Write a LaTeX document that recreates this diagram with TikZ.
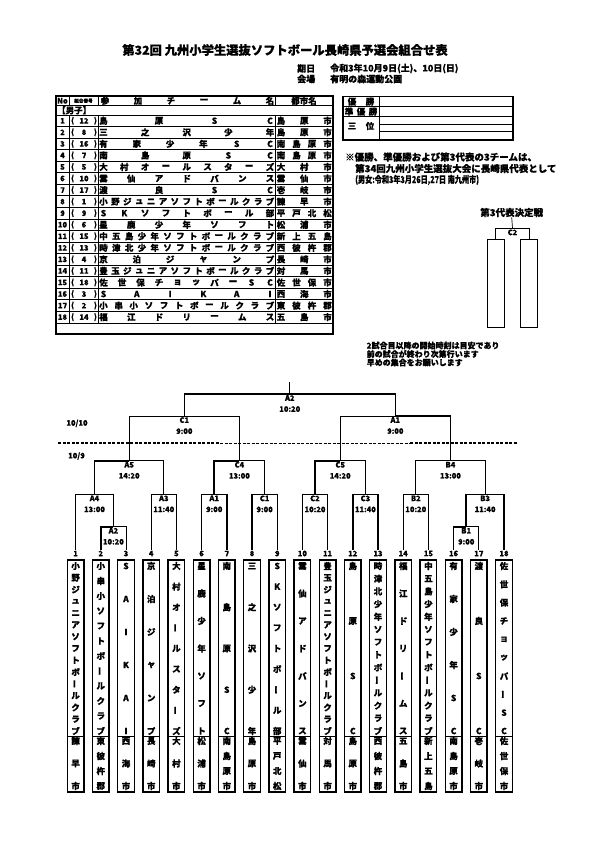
\documentclass[tikz,border=0pt]{standalone}
\usepackage{fontspec}
\setmainfont{Noto Sans CJK JP}[BoldFeatures={FakeBold=0.6}]
\usetikzlibrary{positioning}

\newcommand\tate{\rotatebox[origin=c]{90}{ー}}
\newcommand\cho{ー}
\newcommand\defteam[3]{\expandafter\def\csname tm#1\endcsname{#2}%
  \expandafter\def\csname ct#1\endcsname{#3}}
\newcommand\getteam[1]{\expandafter\let\expandafter\tmname\csname tm#1\endcsname
  \expandafter\let\expandafter\ctname\csname ct#1\endcsname}
\newcommand\spreadh[5]{%
  \foreach \cc [count=\nk] in #4 {\xdef\nch{\nk}}
  \foreach \cc [count=\nk] in #4 {
    \pgfmathsetmacro\xx{#1+(\nk-1)*(#2-#1)/(\nch-1)}
    \node[ch] (#5\nk) at (\xx,#3) {\cc};}}
\newcommand\spreadv[5]{%
  \foreach \cc [count=\nk] in #4 {\xdef\nch{\nk}}
  \foreach \cc [count=\nk] in #4 {
    \pgfmathsetmacro\yy{#2+(\nk-1)*(#3-#2)/(\nch-1)}
    \node[ch] (#5\nk) at (#1,\yy) {\cc};}}

\defteam{1}{小,野,ジ,ュ,ニ,ア,ソ,フ,ト,ボ,\cho,ル,ク,ラ,ブ}{諫,早,市}
\defteam{2}{小,串,小,ソ,フ,ト,ボ,\cho,ル,ク,ラ,ブ}{東,彼,杵,郡}
\defteam{3}{S,A,I,K,A,I}{西,海,市}
\defteam{4}{京,泊,ジ,ャ,ン,プ}{長,崎,市}
\defteam{5}{大,村,オ,\cho,ル,ス,タ,\cho,ズ}{大,村,市}
\defteam{6}{星,鹿,少,年,ソ,フ,ト}{松,浦,市}
\defteam{7}{南,島,原,S,C}{南,島,原,市}
\defteam{8}{三,之,沢,少,年}{島,原,市}
\defteam{9}{S,K,ソ,フ,ト,ボ,\cho,ル,部}{平,戸,北,松}
\defteam{10}{雲,仙,ア,ド,バ,ン,ス}{雲,仙,市}
\defteam{11}{豊,玉,ジ,ュ,ニ,ア,ソ,フ,ト,ボ,\cho,ル,ク,ラ,ブ}{対,馬,市}
\defteam{12}{島,原,S,C}{島,原,市}
\defteam{13}{時,津,北,少,年,ソ,フ,ト,ボ,\cho,ル,ク,ラ,ブ}{西,彼,杵,郡}
\defteam{14}{福,江,ド,リ,\cho,ム,ス}{五,島,市}
\defteam{15}{中,五,島,少,年,ソ,フ,ト,ボ,\cho,ル,ク,ラ,ブ}{新,上,五,島}
\defteam{16}{有,家,少,年,S,C}{南,島,原,市}
\defteam{17}{渡,良,S,C}{壱,岐,市}
\defteam{18}{佐,世,保,チ,ョ,ッ,パ,\cho,S,C}{佐,世,保,市}

\begin{document}
\begin{tikzpicture}[x=1pt,y=-1pt,
  ch/.style={inner sep=0pt,font=\bfseries\fontsize{8.5}{9}\selectfont},
  num/.style={inner sep=0.5pt,font=\bfseries\fontsize{7.5}{8}\selectfont},
  match/.style={anchor=north,align=center,inner sep=1pt,font=\bfseries\fontsize{7.5}{11}\selectfont},
  txt/.style={anchor=west,inner sep=0pt,font=\bfseries\fontsize{9}{10}\selectfont},
  note/.style={anchor=west,inner sep=0pt,font=\bfseries\fontsize{8}{9}\selectfont},
  tabline/.style={line width=0.8pt},
  tabframe/.style={line width=1.3pt},
  br/.style={line width=0.7pt},
  win/.style={line width=1.6pt},
  tbox/.style={draw,line width=1.3pt,minimum width=16.6pt,minimum height=232pt,inner sep=0pt},
  pbox/.style={draw,line width=1.3pt,minimum width=17pt,minimum height=88pt,inner sep=0pt},
  daysep/.style={dash pattern=on 3pt off 1.5pt}]
\useasboundingbox (0,0) rectangle (595,842);

\node[txt,anchor=center,font=\bfseries\fontsize{12.3}{13}\selectfont] (title) at (285,50) {第32回 九州小学生選抜ソフトボール長崎県予選会組合せ表};
\node[txt] (dlab) at (297,68.5) {期日};
\node[txt] (date) at (330,68.5) {令和3年10月9日(土)、10日(日)};
\node[txt] (vlab) at (297,79) {会場};
\node[txt] (venue) at (330,79) {有明の森運動公園};

\draw[tabframe] (56,96) rectangle (333,334);
\draw[tabline] (56,105.5) -- (333,105.5);
\foreach \rw in {0,...,18} \draw[tabline] (56,{115+\rw*11.55}) -- (333,{115+\rw*11.55});
\foreach \cx in {69,98,275} {\draw[tabline] (\cx,96) -- (\cx,105.5); \draw[tabline] (\cx,115) -- (\cx,322.9);}
\node[num] (hno) at (62.5,100.8) {No};
\node[num,font=\bfseries\fontsize{4.6}{5}\selectfont] (hpos) at (83.5,100.8) {組合番号};
\spreadh{105}{270}{100.8}{{参,加,チ,ー,ム,名}}{hnm}
\node[ch] (hct) at (304,100.8) {都市名};
\node[ch,anchor=west] (boys) at (57,110.3) {【男子】};
\foreach \rw/\tp in {1/12,2/8,3/16,4/7,5/5,6/10,7/17,8/1,9/9,10/6,11/15,12/13,13/4,14/11,15/18,16/3,17/2,18/14} {
  \pgfmathsetmacro\ry{115+(\rw-0.5)*11.55}
  \getteam{\tp}
  \node[num] (no\rw) at (62.5,\ry) {\rw};
  \node[num] (lp\rw) at (72.5,\ry) {(};
  \node[num] (pos\rw) at (84,\ry) {\tp};
  \node[num] (rp\rw) at (95.5,\ry) {)};
  \spreadh{103.5}{270}{\ry}{\tmname}{nm\rw-}
  \spreadh{281}{327.5}{\ry}{\ctname}{ct\rw-}
}

\draw[tabframe] (343,96.5) rectangle (513,140);
\draw[tabline] (379,96.5) -- (379,140);
\draw[tabline] (343,106.5) -- (513,106.5);
\draw[tabline] (343,116.7) -- (513,116.7);
\draw[tabframe] (379,124.3) -- (513,124.3);
\draw[tabline] (379,131) -- (513,131);
\spreadh{352}{370}{101.6}{{優,勝}}{win}
\spreadh{349}{373}{111.6}{{準,優,勝}}{sec}
\spreadh{352}{370}{126}{{三,位}}{thd}

\node[txt,font=\bfseries\fontsize{9.5}{10}\selectfont] (n1) at (345,157) {※優勝、準優勝および第3代表の3チームは、};
\node[txt,font=\bfseries\fontsize{9.5}{10}\selectfont] (n2) at (355,168.5) {第34回九州小学生選抜大会に長崎県代表として};
\node[txt,font=\bfseries\fontsize{9.5}{10}\selectfont] (n3) at (355,180) {\scalebox{0.75}[1]{(男女:令和3年3月26日,27日 南九州市)}};

\node[txt,anchor=center,font=\bfseries\fontsize{9.5}{10}\selectfont] (p3t) at (511.7,212.5) {第3代表決定戦};
\node[match] (p3c) at (512.5,228.3) {C2};
\node[pbox] (p3a) at (495.8,283.3) {};
\node[pbox] (p3b) at (529.2,283.3) {};
\draw[br] (p3t.south) -- (p3c.north);
\draw[br] (p3a.north) |- (p3c.north) -| (p3b.north);

\node[note] (g1) at (366.5,345.5) {2試合目以降の開始時刻は目安であり};
\node[note] (g2) at (366.5,354) {前の試合が終わり次第行います};
\node[note] (g3) at (366.5,362.5) {早めの集合をお願いします};

\node[txt,anchor=center,font=\bfseries\fontsize{7.5}{8}\selectfont] (day2) at (77,423.3) {10/10};
\node[txt,anchor=center,font=\bfseries\fontsize{7.5}{8}\selectfont] (day1) at (76.5,456) {10/9};
\draw[daysep,line width=1.2pt] (58,443) -- (220,443);
\draw[daysep,line width=0.7pt] (220,443) -- (410,443);
\draw[daysep,line width=1.2pt] (410,443) -- (517,443);

\foreach \i in {1,...,18} \node[num] (l\i) at ({75.6+(\i-1)*25.2},553.5) {\i};
\node[match] (mA2) at (113.4,526.7) {A2\\10:20};
\node[match] (mB1) at (466.2,526.7) {B1\\9:00};
\node[match] (mA4) at (94.5,494.3) {A4\\13:00};
\node[match] (mA3) at (163.8,494.3) {A3\\11:40};
\node[match] (mA1) at (214.2,494.3) {A1\\9:00};
\node[match] (mC1) at (264.6,494.3) {C1\\9:00};
\node[match] (mC2) at (315,494.3) {C2\\10:20};
\node[match] (mC3) at (365.4,494.3) {C3\\11:40};
\node[match] (mB2) at (415.8,494.3) {B2\\10:20};
\node[match] (mB3) at (485.1,494.3) {B3\\11:40};
\node[match] (mA5) at (129.15,460.7) {A5\\14:20};
\node[match] (mC4) at (239.4,460.7) {C4\\13:00};
\node[match] (mC5) at (340.2,460.7) {C5\\14:20};
\node[match] (mB4) at (450.45,460.7) {B4\\13:00};
\node[match] (sC1) at (184.3,416) {C1\\9:00};
\node[match] (sA1) at (395.3,416) {A1\\9:00};
\node[match] (fin) at (289.8,394) {A2\\10:20};
\coordinate (top) at (289.8,382);
\foreach \a/\b/\s in {l1/mA4/br,mA2/mA4/win,l2/mA2/win,l3/mA2/br,l4/mA3/br,l5/mA3/br,
  l6/mA1/br,l7/mA1/win,l8/mC1/win,l9/mC1/br,l10/mC2/br,l11/mC2/br,l12/mC3/win,l13/mC3/win,
  l14/mB2/br,l15/mB2/br,l16/mB1/win,l17/mB1/br,mB1/mB3/win,l18/mB3/win,
  mA4/mA5/win,mA3/mA5/br,mA1/mC4/win,mC1/mC4/br,mC2/mC5/win,mC3/mC5/br,mB2/mB4/br,mB3/mB4/br,
  mA5/sC1/br,mC4/sC1/br,mC5/sA1/br,mB4/sA1/win,sC1/fin/win,sA1/fin/win}
  \draw[\s] (\a.north) |- (\b.north);
\draw[br] (fin.north) -- (top);

\def\cho{\tate}
\foreach \tp in {1,...,18} {
  \pgfmathsetmacro\bx{75.6+(\tp-1)*25.2}
  \getteam{\tp}
  \node[tbox] (box\tp) at (\bx,676) {};
  \draw[tabframe] ({\bx-8.3},736.5) -- ({\bx+8.3},736.5);
  \spreadv{\bx}{566}{731}{\tmname}{bt\tp-}
  \spreadv{\bx}{741}{786}{\ctname}{bc\tp-}
}
\end{tikzpicture}
\end{document}
